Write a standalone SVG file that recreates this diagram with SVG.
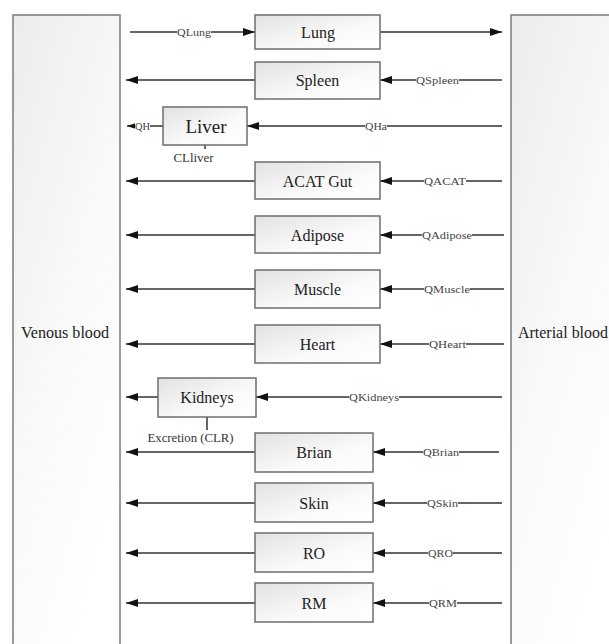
<svg xmlns="http://www.w3.org/2000/svg" width="609" height="644" viewBox="0 0 609 644">
<style>
text{font-family:"Liberation Serif","DejaVu Serif","Times New Roman",serif}
.panel{stroke:#7a7a7a;stroke-width:1.5}
.box{fill:url(#bg);stroke:#6e6e6e;stroke-width:1.5}
.t{font-size:16px;fill:#222;text-anchor:middle}
.big{font-size:19px}
.lab{font-size:11px;fill:#444;text-anchor:middle}
.note{font-size:12px;fill:#333;text-anchor:middle}
.bl{font-size:16px;fill:#222}
.c line{stroke:#333;stroke-width:1.5;fill:none}
.lbg{fill:#fff}
</style>
<defs>
<linearGradient id="bg" x1="0" y1="0" x2="1" y2="1">
<stop offset="0" stop-color="#e2e2e2"/>
<stop offset="0.6" stop-color="#fafafa"/>
<stop offset="1" stop-color="#ffffff"/>
</linearGradient>
<linearGradient id="pg" x1="0" y1="0" x2="0.6" y2="1">
<stop offset="0" stop-color="#ececec"/>
<stop offset="0.5" stop-color="#f8f8f8"/>
<stop offset="1" stop-color="#ffffff"/>
</linearGradient>
<marker id="ah" viewBox="0 0 12 8" refX="12" refY="4" markerWidth="12" markerHeight="8" markerUnits="userSpaceOnUse" orient="auto">
<path d="M0,0 L12,4 L0,8 Z" fill="#111"/>
</marker>
</defs>
<rect width="609" height="644" fill="#fff"/>
<g id="venous">
<rect class="panel" x="13" y="15" width="107" height="640" fill="url(#pg)"/>
<text class="bl" x="65" y="338" text-anchor="middle" textLength="88" lengthAdjust="spacingAndGlyphs">Venous blood</text>
</g>
<g id="arterial">
<rect class="panel" x="511" y="15" width="110" height="640" fill="url(#pg)"/>
<text class="bl" x="518" y="338" textLength="90" lengthAdjust="spacingAndGlyphs">Arterial blood</text>
</g>
<g class="c" id="connectors">
<line x1="130" y1="32" x2="255" y2="32" marker-end="url(#ah)"/>
<line x1="380" y1="32" x2="502" y2="32" marker-end="url(#ah)"/>
<line x1="502" y1="80" x2="380" y2="80" marker-end="url(#ah)"/>
<line x1="255" y1="80" x2="126" y2="80" marker-end="url(#ah)"/>
<line x1="502" y1="126" x2="247" y2="126" marker-end="url(#ah)"/>
<line x1="163" y1="126" x2="127" y2="126" marker-end="url(#ah)"/>
<line x1="205" y1="145" x2="205" y2="149"/>
<line x1="502" y1="181" x2="380" y2="181" marker-end="url(#ah)"/>
<line x1="255" y1="181" x2="126" y2="181" marker-end="url(#ah)"/>
<line x1="504" y1="235" x2="380" y2="235" marker-end="url(#ah)"/>
<line x1="255" y1="235" x2="126" y2="235" marker-end="url(#ah)"/>
<line x1="504" y1="289" x2="380" y2="289" marker-end="url(#ah)"/>
<line x1="255" y1="289" x2="126" y2="289" marker-end="url(#ah)"/>
<line x1="504" y1="344" x2="380" y2="344" marker-end="url(#ah)"/>
<line x1="255" y1="344" x2="126" y2="344" marker-end="url(#ah)"/>
<line x1="502" y1="397" x2="256" y2="397" marker-end="url(#ah)"/>
<line x1="158" y1="397" x2="126" y2="397" marker-end="url(#ah)"/>
<line x1="207" y1="417" x2="207" y2="430"/>
<line x1="499" y1="452" x2="373" y2="452" marker-end="url(#ah)"/>
<line x1="255" y1="452" x2="126" y2="452" marker-end="url(#ah)"/>
<line x1="502" y1="503" x2="373" y2="503" marker-end="url(#ah)"/>
<line x1="255" y1="503" x2="126" y2="503" marker-end="url(#ah)"/>
<line x1="502" y1="553" x2="373" y2="553" marker-end="url(#ah)"/>
<line x1="255" y1="553" x2="126" y2="553" marker-end="url(#ah)"/>
<line x1="502" y1="603" x2="373" y2="603" marker-end="url(#ah)"/>
<line x1="255" y1="603" x2="126" y2="603" marker-end="url(#ah)"/>
</g>
<g id="flow-labels">
<rect class="lbg" x="177" y="26" width="34" height="12"/><text class="lab" x="194" y="35.5" textLength="34" lengthAdjust="spacingAndGlyphs">QLung</text>
<rect class="lbg" x="416" y="74" width="43" height="12"/><text class="lab" x="437.5" y="83.5" textLength="43" lengthAdjust="spacingAndGlyphs">QSpleen</text>
<rect class="lbg" x="135" y="120" width="15" height="12"/><text class="lab" x="142.5" y="129.5" textLength="15" lengthAdjust="spacingAndGlyphs">QH</text>
<rect class="lbg" x="365" y="120" width="22" height="12"/><text class="lab" x="376" y="129.5" textLength="22" lengthAdjust="spacingAndGlyphs">QHa</text>
<rect class="lbg" x="424" y="175" width="42" height="12"/><text class="lab" x="445" y="184.5" textLength="42" lengthAdjust="spacingAndGlyphs">QACAT</text>
<rect class="lbg" x="422" y="229" width="50" height="12"/><text class="lab" x="447" y="238.5" textLength="50" lengthAdjust="spacingAndGlyphs">QAdipose</text>
<rect class="lbg" x="424" y="283" width="46" height="12"/><text class="lab" x="447" y="292.5" textLength="46" lengthAdjust="spacingAndGlyphs">QMuscle</text>
<rect class="lbg" x="429" y="338" width="37" height="12"/><text class="lab" x="447.5" y="347.5" textLength="37" lengthAdjust="spacingAndGlyphs">QHeart</text>
<rect class="lbg" x="349" y="391" width="50" height="12"/><text class="lab" x="374" y="400.5" textLength="50" lengthAdjust="spacingAndGlyphs">QKidneys</text>
<rect class="lbg" x="423" y="446" width="36" height="12"/><text class="lab" x="441" y="455.5" textLength="36" lengthAdjust="spacingAndGlyphs">QBrian</text>
<rect class="lbg" x="427" y="497" width="31" height="12"/><text class="lab" x="442.5" y="506.5" textLength="31" lengthAdjust="spacingAndGlyphs">QSkin</text>
<rect class="lbg" x="428" y="547" width="25" height="12"/><text class="lab" x="440.5" y="556.5" textLength="25" lengthAdjust="spacingAndGlyphs">QRO</text>
<rect class="lbg" x="429" y="597" width="28" height="12"/><text class="lab" x="443" y="606.5" textLength="28" lengthAdjust="spacingAndGlyphs">QRM</text>
<text class="note" x="193.5" y="162" textLength="40" lengthAdjust="spacingAndGlyphs">CLliver</text>
<text class="note" x="190.5" y="442" textLength="86" lengthAdjust="spacingAndGlyphs">Excretion (CLR)</text>
</g>
<g id="lung"><rect class="box" x="255" y="15" width="125" height="34"/><text class="t" x="318" y="37.5">Lung</text></g>
<g id="spleen"><rect class="box" x="255" y="62" width="125" height="37"/><text class="t" x="317.5" y="86">Spleen</text></g>
<g id="liver"><rect class="box" x="163" y="107" width="84" height="38"/><text class="t big" x="206" y="132.5">Liver</text></g>
<g id="acatgut"><rect class="box" x="255" y="162" width="125" height="37"/><text class="t" x="317.5" y="187">ACAT Gut</text></g>
<g id="adipose"><rect class="box" x="255" y="216" width="125" height="37"/><text class="t" x="317.5" y="241">Adipose</text></g>
<g id="muscle"><rect class="box" x="255" y="270" width="125" height="38"/><text class="t" x="317.5" y="295">Muscle</text></g>
<g id="heart"><rect class="box" x="255" y="325" width="125" height="38"/><text class="t" x="317.5" y="350">Heart</text></g>
<g id="kidneys"><rect class="box" x="158" y="378" width="98" height="39"/><text class="t" x="207" y="403">Kidneys</text></g>
<g id="brian"><rect class="box" x="255" y="433" width="118" height="39"/><text class="t" x="314" y="458">Brian</text></g>
<g id="skin"><rect class="box" x="255" y="483" width="118" height="39"/><text class="t" x="314" y="508.5">Skin</text></g>
<g id="ro"><rect class="box" x="255" y="533" width="118" height="39"/><text class="t" x="314" y="558.5">RO</text></g>
<g id="rm"><rect class="box" x="255" y="583" width="118" height="39"/><text class="t" x="314" y="608.5">RM</text></g>
</svg>
